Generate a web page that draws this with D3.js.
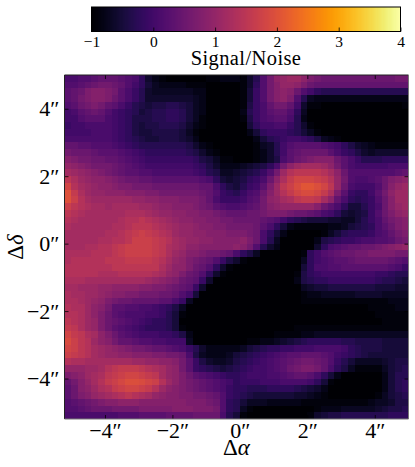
<!DOCTYPE html>
<html>
<head>
<meta charset="utf-8">
<script src="https://cdn.jsdelivr.net/npm/d3@7"></script>
<style>
html, body { margin: 0; padding: 0; background: #fff; }
svg { display: block; }
text { font-family: "Liberation Serif", serif; fill: #000; }
</style>
</head>
<body>
<svg id="chart" width="415" height="467"></svg>
<script>
// signal/noise map, rows top to bottom, columns left to right
var snMap = [
[.1,.1,.2,.2,.3, .4,.4,.4,.3,.2, .1,-.2,-.6,-.8,-.9, -1,-1,-1,-1,-1, -1,-.9,-.9,-.8,-.8, -.8,-.9,-.6,-.3,.2, .6,.9,1,1.1,1.1, .9,.7,.6,.5,.5, .5,.5,.5,.5,.5, .5,.5,.5,.5,.6, .6],
[.2,.2,.3,.4,.5, .6,.6,.5,.4,.2, 0,-.2,-.5,-.7,-.8, -.8,-.8,-.8,-.9,-.9, -.9,-1,-1,-1,-1, -1,-.9,-.6,-.2,.2, .6,.8,1,1,.9, .7,.5,.4,.4,.4, .4,.4,.4,.4,.4, .4,.4,.4,.4,.4, .4],
[.3,.4,.5,.7,.8, .8,.7,.6,.3,.1, -.1,-.3,-.6,-.7,-.7, -.7,-.7,-.7,-.7,-.8, -.8,-1,-1,-1,-1, -1,-.9,-.5,-.1,.2, .6,.8,.9,.8,.5, .2,0,-.2,-.3,-.3, -.3,-.3,-.3,-.3,-.3, -.3,-.3,-.3,-.3,-.3, -.3],
[.3,.4,.6,.7,.8, .8,.7,.5,.3,.1, -.1,-.3,-.6,-.6,-.6, -.6,-.6,-.6,-.6,-.7, -.8,-1,-1,-1,-1, -1,-.9,-.5,-.1,.2, .6,.8,.9,.7,.2, -.3,-.7,-.8,-.8,-.8, -.8,-.8,-.8,-.8,-.8, -.8,-.8,-.8,-.8,-.8, -.8],
[.2,.3,.5,.6,.7, .6,.4,.3,.1,-.1, -.3,-.4,-.5,-.4,-.4, -.3,-.3,-.4,-.5,-.7, -.8,-1,-1,-1,-1, -1,-.9,-.4,-.1,.1, .4,.6,.6,.4,0, -.6,-.9,-.9,-1,-1, -1,-1,-1,-1,-1, -1,-1,-1,-1,-1, -.9],
[0,.1,.3,.4,.5, .4,.2,0,-.1,-.2, -.3,-.5,-.4,-.3,-.3, -.2,-.2,-.3,-.5,-.7, -.8,-1,-1,-1,-1, -1,-.8,-.3,-.1,.1, .3,.4,.4,.2,-.2, -.7,-1,-1,-1,-1, -1,-1,-1,-1,-1, -1,-1,-1,-1,-1, -1],
[0,0,.2,.3,.3, .3,.1,0,-.1,-.2, -.4,-.4,-.4,-.3,-.3, -.2,-.2,-.3,-.5,-.7, -.9,-1,-1,-1,-1, -1,-.9,-.4,-.1,.1, .2,.3,.3,.1,-.3, -.8,-1,-1,-1,-1, -1,-1,-1,-1,-1, -1,-1,-1,-1,-1, -1],
[-.1,0,0,.1,.1, .1,.1,0,-.1,-.2, -.4,-.5,-.4,-.4,-.3, -.3,-.3,-.4,-.6,-.8, -.9,-1,-1,-1,-1, -1,-1,-.5,-.2,0, 0,.1,.1,-.1,-.3, -.6,-.9,-1,-1,-1, -1,-1,-1,-1,-1, -1,-1,-1,-1,-1, -1],
[0,0,0,0,.1, .1,.1,0,-.1,-.2, -.4,-.5,-.5,-.4,-.4, -.4,-.4,-.5,-.7,-.9, -1,-1,-1,-1,-1, -1,-1,-.8,-.5,-.2, -.1,-.1,-.1,-.2,-.3, -.5,-.7,-.9,-1,-1, -1,-1,-1,-1,-1, -1,-1,-1,-1,-1, -1],
[.1,.1,.1,.1,.1, .1,.1,0,-.1,-.2, -.3,-.4,-.5,-.5,-.4, -.4,-.4,-.5,-.6,-.8, -1,-1,-1,-1,-1, -1,-1,-1,-.8,-.5, -.3,-.2,-.1,0,0, -.1,-.2,-.4,-.7,-.8, -.9,-1,-1,-1,-1, -1,-1,-1,-1,-1, -1],
[.4,.4,.3,.3,.2, .2,.2,.1,0,-.1, -.2,-.3,-.3,-.3,-.3, -.3,-.3,-.3,-.4,-.6, -.8,-.9,-1,-1,-1, -1,-1,-1,-.9,-.7, -.6,-.3,0,.2,.3, .3,.3,.3,.2,.1, 0,-.2,-.4,-.6,-.7, -.8,-.9,-.9,-.9,-.9, -.9],
[.6,.5,.5,.5,.4, .3,.3,.3,.2,.1, 0,-.1,-.2,-.2,-.2, -.2,-.2,-.2,-.3,-.4, -.6,-.8,-.9,-1,-1, -1,-1,-1,-.9,-.8, -.6,-.3,0,.3,.4, .5,.5,.5,.5,.3, .1,-.1,-.2,-.4,-.6, -.7,-.6,-.6,-.6,-.6, -.6],
[.8,.7,.6,.6,.5, .5,.4,.4,.3,.2, .1,0,-.1,-.1,-.1, -.1,-.1,-.1,-.1,-.2, -.4,-.5,-.7,-.9,-.9, -1,-1,-1,-.9,-.8, -.6,-.4,.1,.3,.5, .6,.7,.8,.8,.8, .5,.3,.1,-.1,-.3, -.3,-.3,-.2,-.2,-.2, -.2],
[1,.9,.8,.7,.6, .6,.6,.5,.4,.3, .2,.1,0,0,0, 0,0,0,0,-.1, -.2,-.4,-.6,-.8,-.8, -.8,-.7,-.6,-.5,-.4, -.2,.1,.6,.9,1.1, 1.2,1.2,1.2,1.1,.9, .6,.3,.1,0,0, 0,0,0,.1,.1, .1],
[1.2,1.1,1,.9,.8, .7,.6,.5,.4,.3, .3,.2,.2,.1,.1, .1,.1,.1,.1,0, -.1,-.3,-.4,-.7,-.7, -.6,-.5,-.4,-.3,-.1, .2,.6,1.1,1.4,1.5, 1.5,1.5,1.5,1.4,1.2, .9,.5,.2,.2,.2, .2,.2,.2,.2,.3, .4],
[1.5,1.3,1.1,1,.9, .9,.8,.7,.6,.5, .5,.4,.4,.3,.3, .3,.3,.3,.3,.3, .2,.1,-.2,-.5,-.6, -.5,-.4,-.2,-.1,.1, .5,.9,1.3,1.6,1.8, 1.8,1.8,1.7,1.6,1.4, 1,.6,.2,.1,.1, .2,.3,.5,.7,.8, .9],
[1.8,1.4,1.2,1.1,1, .9,.9,.8,.7,.7, .6,.6,.6,.5,.5, .5,.5,.5,.5,.5, .4,.4,.1,-.2,-.4, -.5,-.3,-.1,0,.3, .7,1.1,1.5,1.7,1.9, 2.05,2.05,1.95,1.8,1.5, 1,.5,.1,0,0, 0,.2,.5,.8,1, 1.1],
[2,1.6,1.3,1.1,1, 1,.9,.9,.9,.8, .8,.8,.7,.7,.6, .6,.6,.6,.6,.6, .5,.4,.2,-.1,-.2, -.3,-.1,.1,.2,.5, .8,1.1,1.4,1.6,1.8, 1.9,1.9,1.8,1.6,1.3, .7,.3,-.1,-.2,-.2, 0,.3,.6,.9,1.1, 1.1],
[2,1.7,1.4,1.2,1.1, 1.1,1.1,1.1,1.1,1.1, 1,1,.9,.9,.8, .8,.8,.7,.7,.7, .6,.4,.1,-.1,-.1, -.1,0,.2,.3,.6, .9,1,1.2,1.3,1.5, 1.6,1.6,1.5,1.2,.9, .4,.1,-.2,-.3,-.2, -.1,.2,.5,.8,1.1, 1.1],
[1.7,1.5,1.4,1.3,1.2, 1.2,1.1,1.2,1.2,1.2, 1.2,1.1,1.1,1,.9, .9,.8,.8,.8,.7, .6,.5,.3,.2,.1, .1,.2,.3,.4,.6, .8,.9,1,1,1, 1,1,.8,.5,.3, .1,-.2,-.5,-.5,-.3, -.1,.1,.5,.8,1, 1.1],
[1.5,1.4,1.3,1.2,1.2, 1.2,1.2,1.2,1.2,1.3, 1.3,1.3,1.2,1.1,1, 1,.9,.9,.8,.8, .7,.7,.6,.5,.4, .4,.4,.5,.5,.6, .7,.7,.7,.6,.5, .5,.4,.3,.1,0, -.2,-.5,-.6,-.5,-.4, -.1,.2,.5,.7,.9, 1],
[1.4,1.3,1.2,1.2,1.2, 1.2,1.2,1.2,1.3,1.4, 1.4,1.5,1.4,1.3,1.2, 1.1,1,.9,.9,.8, .8,.7,.7,.6,.6, .5,.5,.5,.5,.4, .3,.2,0,-.2,-.3, -.4,-.5,-.5,-.5,-.6, -.6,-.7,-.7,-.5,-.3, -.1,.1,.4,.6,.7, .8],
[1.3,1.2,1.2,1.2,1.2, 1.2,1.2,1.3,1.3,1.4, 1.5,1.5,1.5,1.4,1.3, 1.2,1.1,1,1,.9, .8,.8,.7,.7,.6, .6,.6,.6,.5,.3, .1,-.2,-.5,-.8,-.9, -.9,-.9,-.9,-.9,-.8, -.8,-.7,-.5,-.4,-.3, -.2,.1,.3,.5,.7, .8],
[1.2,1.2,1.2,1.2,1.2, 1.2,1.3,1.3,1.4,1.5, 1.6,1.7,1.6,1.5,1.4, 1.3,1.1,1,1,.9, .9,.8,.8,.8,.7, .7,.7,.6,.5,.1, -.2,-.5,-.8,-1,-1, -1,-1,-1,-.9,-.7, -.5,-.3,-.2,-.2,-.2, -.1,.1,.2,.4,.6, .7],
[1.2,1.2,1.2,1.2,1.2, 1.3,1.3,1.4,1.4,1.5, 1.7,1.7,1.7,1.6,1.5, 1.4,1.2,1.1,1,1, .9,.9,.8,.8,.8, .8,.9,.7,.5,.1, -.3,-.7,-1,-1,-1, -1,-1,-.8,-.4,-.3, -.2,-.1,-.1,0,.1, .1,.2,.2,.3,.5, .6],
[1.2,1.2,1.2,1.3,1.3, 1.4,1.4,1.5,1.6,1.7, 1.7,1.7,1.7,1.6,1.5, 1.3,1.2,1.1,.9,.9, .8,.8,.8,.8,.8, .9,.8,.6,.2,-.3, -.6,-.8,-1,-1,-1, -1,-1,-.6,-.2,.1, .2,.3,.4,.4,.5, .5,.6,.7,.8,.9, 1],
[1.3,1.3,1.3,1.3,1.4, 1.4,1.4,1.5,1.6,1.7, 1.7,1.7,1.7,1.6,1.5, 1.3,1.1,1,.8,.8, .7,.6,.6,.5,.4, .1,-.2,-.4,-.7,-1, -1,-1,-1,-1,-1, -.9,-.2,0,.2,.3, .4,.5,.5,.6,.6, .7,.7,.7,.7,.6, .6],
[1.3,1.4,1.4,1.4,1.4, 1.4,1.5,1.5,1.5,1.6, 1.6,1.6,1.6,1.5,1.4, 1.2,1,.9,.7,.6, .5,.4,.2,-.1,-.4, -.6,-.9,-1,-1,-1, -1,-1,-1,-1,-1, -.7,-.2,0,.1,.2, .3,.3,.4,.5,.5, .5,.5,.5,.4,.3, .2],
[1.4,1.4,1.4,1.4,1.4, 1.4,1.4,1.5,1.5,1.5, 1.5,1.5,1.5,1.5,1.3, 1.1,.9,.9,.7,.5, .4,.2,-.2,-.6,-.9, -1,-1,-1,-1,-1, -1,-1,-1,-1,-1, -.5,-.2,.1,.1,.2, .2,.3,.3,.3,.3, .3,.3,.3,.2,.1, -.1],
[1.4,1.4,1.4,1.4,1.4, 1.3,1.3,1.3,1.4,1.4, 1.4,1.4,1.4,1.3,1.2, 1,.9,.7,.5,.4, .2,-.2,-.6,-.9,-1, -1,-1,-1,-1,-1, -1,-1,-1,-1,-.9, -.4,-.2,-.1,0,0, 0,0,0,0,0, 0,-.1,-.1,-.2,-.3, -.3],
[1.3,1.3,1.3,1.2,1.2, 1.2,1.2,1.2,1.2,1.2, 1.2,1.2,1.1,1,.9, .8,.7,.5,.4,.3, -.1,-.6,-1,-1,-1, -1,-1,-1,-1,-1, -1,-1,-1,-1,-.8, -.4,-.3,-.2,-.2,-.1, -.1,-.1,-.1,-.1,-.1, -.1,-.2,-.3,-.3,-.4, -.5],
[1.2,1.2,1.1,1.1,1.1, 1,1,.9,.9,.9, .9,.8,.8,.7,.7, .6,.5,.4,.3,-.1, -.6,-1,-1,-1,-1, -1,-1,-1,-1,-1, -1,-1,-1,-1,-1, -.7,-.6,-.5,-.5,-.4, -.4,-.4,-.4,-.4,-.4, -.4,-.5,-.5,-.5,-.6, -.6],
[1.3,1.2,1.2,1.1,1.1, 1,.9,.8,.8,.7, .7,.6,.6,.6,.5, .5,.4,.2,0,-.5, -1,-1,-1,-1,-1, -1,-1,-1,-1,-1, -1,-1,-1,-1,-1, -.9,-.8,-.8,-.7,-.7, -.7,-.7,-.7,-.6,-.6, -.6,-.6,-.7,-.7,-.7, -.7],
[1.3,1.3,1.2,1.1,1, .9,.7,.6,.5,.5, .4,.4,.4,.4,.3, .3,.1,-.1,-.7,-1, -1,-1,-1,-1,-1, -1,-1,-1,-1,-1, -1,-1,-1,-1,-1, -.9,-.9,-.9,-.9,-.9, -.9,-.9,-.9,-.9,-.9, -.9,-.9,-.9,-.8,-.8, -.8],
[1.4,1.3,1.3,1.1,.9, .8,.6,.3,.3,.2, .2,.1,.1,0,-.1, -.2,-.4,-.7,-1,-1, -1,-1,-1,-1,-1, -1,-1,-1,-1,-1, -1,-1,-1,-1,-1, -1,-1,-1,-1,-1, -1,-1,-1,-1,-1, -.9,-.9,-.9,-.9,-.8, -.8],
[1.4,1.4,1.3,1.1,.9, .7,.5,.3,.2,.1, .1,.1,0,0,-.1, -.3,-.5,-.9,-1,-1, -1,-1,-1,-1,-1, -1,-1,-1,-1,-1, -1,-1,-1,-1,-1, -1,-1,-1,-1,-1, -1,-1,-1,-1,-1, -1,-.9,-.9,-.9,-.9, -.9],
[1.5,1.4,1.3,1.1,1, .7,.5,.4,.3,.2, .1,0,-.1,-.2,-.2, -.3,-.5,-1,-1,-1, -1,-1,-1,-1,-1, -1,-1,-1,-1,-1, -1,-1,-1,-1,-1, -1,-1,-1,-1,-1, -1,-1,-1,-1,-1, -1,-1,-.9,-.9,-.9, -.9],
[1.6,1.5,1.3,1.1,1, .7,.5,.3,.2,.1, 0,-.1,-.2,-.2,-.2, -.3,-.5,-.9,-1,-1, -1,-1,-1,-1,-1, -1,-1,-1,-1,-1, -1,-1,-1,-1,-.9, -.9,-.9,-.9,-.9,-.9, -.9,-.9,-.9,-.9,-.9, -.9,-.9,-.9,-.9,-.9, -.9],
[1.8,1.6,1.5,1.3,1.2, .9,.7,.5,.3,.2, .1,0,0,0,-.1, -.1,-.2,-.4,-.8,-1, -1,-1,-1,-1,-1, -1,-1,-1,-1,-1, -1,-.9,-.9,-.9,-.9, -.8,-.8,-.7,-.7,-.7, -.7,-.7,-.7,-.7,-.7, -.7,-.7,-.7,-.7,-.7, -.7],
[1.9,1.7,1.5,1.4,1.1, .9,.8,.6,.4,.4, .3,.2,.2,.1,.1, 0,0,0,-.7,-1, -1,-1,-1,-1,-1, -1,-1,-.9,-.9,-.8, -.8,-.7,-.6,-.5,-.4, -.3,-.2,-.2,-.2,-.2, -.2,-.3,-.3,-.4,-.4, -.4,-.4,-.5,-.5,-.5, -.5],
[1.8,1.7,1.5,1.4,1.2, 1.1,1,.9,.8,.7, .6,.6,.5,.4,.4, .3,.2,.1,-.1,-.3, -.6,-.8,-.8,-.8,-.8, -.8,-.7,-.5,-.4,-.3, -.2,-.2,-.1,-.1,0, 0,0,.1,.1,.1, .1,0,-.2,-.3,-.4, -.4,-.4,-.5,-.5,-.5, -.5],
[1.7,1.6,1.5,1.4,1.2, 1.1,1,1,.9,.9, .8,.8,.8,.7,.7, .6,.6,.5,.1,-.4, -.7,-.8,-.8,-.8,-.7, -.5,-.4,-.3,-.2,-.1, 0,.1,.2,.3,.3, .4,.4,.4,.3,.2, 0,-.1,-.2,-.3,-.4, -.5,-.5,-.5,-.5,-.5, -.5],
[1.4,1.3,1.3,1.2,1.2, 1.2,1.2,1.2,1.2,1.2, 1.1,1.1,1,1,.9, .9,.8,.6,.3,-.1, -.4,-.6,-.7,-.7,-.6, -.4,-.3,-.2,-.1,0, .1,.2,.3,.4,.5, .6,.6,.5,.4,.2, -.1,-.3,-.5,-.7,-.7, -.7,-.7,-.6,-.5,-.4, -.4],
[1,1,1,1.1,1.1, 1.2,1.4,1.5,1.6,1.6, 1.6,1.5,1.4,1.3,1.2, 1,.9,.6,.3,-.1, -.2,-.3,-.4,-.5,-.4, -.3,-.2,-.1,0,0, .1,.2,.3,.5,.6, .7,.7,.6,.4,.1, -.2,-.4,-.7,-.9,-.9, -.9,-.9,-.7,-.5,-.4, -.3],
[.7,.8,.9,1.1,1.2, 1.3,1.5,1.6,1.7,1.8, 1.8,1.7,1.6,1.5,1.2, 1,.9,.7,.5,.3, .2,.1,0,-.1,-.2, -.2,-.1,0,0,0, .1,.1,.2,.3,.4, .4,.3,.1,-.2,-.5, -.8,-1,-1,-1,-1, -1,-1,-.8,-.5,-.3, -.3],
[.4,.6,.8,1,1.2, 1.4,1.6,1.7,1.85,1.95, 1.95,1.9,1.8,1.7,1.4, 1.1,.9,.7,.6,.5, .4,.3,.2,.1,0, -.2,-.1,-.1,-.1,0, 0,0,.1,.1,.1, .1,0,-.2,-.5,-.9, -1,-1,-1,-1,-1, -1,-1,-.8,-.5,-.3, -.2],
[.3,.5,.8,.9,1.1, 1.3,1.4,1.6,1.7,1.8, 1.8,1.7,1.6,1.4,1.1, .9,.8,.7,.6,.5, .4,.3,.2,.1,-.1, -.2,-.2,-.3,-.3,-.3, -.2,-.2,-.2,-.2,-.3, -.4,-.5,-.6,-.8,-1, -1,-1,-1,-1,-1, -1,-1,-.8,-.5,-.3, -.2],
[.3,.5,.7,.8,1, 1.1,1.2,1.3,1.4,1.5, 1.4,1.3,1.2,1,.9, .8,.8,.7,.7,.6, .6,.5,.4,.2,-.1, -.2,-.3,-.4,-.5,-.5, -.5,-.5,-.5,-.5,-.6, -.6,-.7,-.8,-.9,-1, -1,-1,-1,-1,-1, -1,-.9,-.7,-.5,-.4, -.3],
[.2,.3,.4,.5,.6, .7,.8,.8,.9,.9, .9,.8,.8,.8,.8, .8,.8,.8,.7,.7, .7,.6,.5,.2,-.2, -.3,-.5,-.7,-.7,-.7, -.8,-.8,-.8,-.8,-.8, -.9,-.9,-.9,-.9,-.9, -.9,-.9,-.9,-.9,-.9, -.8,-.7,-.7,-.6,-.4, -.4],
[.2,.2,.3,.4,.5, .5,.5,.6,.6,.6, .6,.7,.7,.7,.7, .7,.8,.8,.8,.7, .7,.7,.6,.2,-.2, -.3,-.7,-.9,-1,-1, -1,-1,-1,-1,-1, -1,-1,-.9,-.8,-.8, -.8,-.7,-.7,-.7,-.7, -.7,-.6,-.5,-.4,-.4, -.3],
[.1,.1,.1,.1,.1, .1,.1,.1,.2,.2, .2,.3,.3,.3,.3, .4,.4,.4,.4,.5, .5,.5,.5,.1,-.3, -.5,-.9,-1,-1,-1, -1,-1,-1,-1,-1, -1,-.9,-.6,-.5,-.4, -.4,-.3,-.3,-.3,-.3, -.3,-.3,-.3,-.2,-.2, -.2]
];

var offsetTicks = [-4, -2, 0, 2, 4];
var cbarTicks = [-1, 0, 1, 2, 3, 4];
var cbarSteps = d3.range(256);

var svg = d3.select("#chart");

var color = d3.scaleSequential(d3.interpolateInferno).domain([-1, 4]).clamp(true);

var x = d3.scaleLinear().domain([-5.2, 5]).range([64.5, 408.5]);
var y = d3.scaleLinear().domain([-5.2, 5]).range([419, 75]);
var cellX = d3.scaleBand().domain(d3.range(snMap[0].length)).range(x.range());
var cellY = d3.scaleBand().domain(d3.range(snMap.length)).range([75, 419]);

function minusSign(v) {
    return v < 0 ? "\u2212" + Math.abs(v) : "" + v;
}
function arcsec(v) {
    return minusSign(v) + "\u2033";
}

// heat map
var rows = svg.append("g").attr("class", "cells")
    .selectAll("g")
    .data(snMap)
    .enter().append("g")
    .attr("transform", function(d, j) { return "translate(0," + cellY(j) + ")"; });

rows.selectAll("rect")
    .data(function(d) { return d; })
    .enter().append("rect")
    .attr("x", function(d, i) { return cellX(i); })
    .attr("width", cellX.bandwidth())
    .attr("height", cellY.bandwidth())
    .attr("shape-rendering", "crispEdges")
    .attr("fill", function(d) { return color(d); });

// frame and ticks on all four sides
function styleAxis(g, fontSize) {
    g.select(".domain").remove();
    g.selectAll("line").attr("stroke", "#000").attr("stroke-width", 0.8);
    g.selectAll("text").style("font-size", fontSize + "px");
}

svg.append("g")
    .attr("transform", "translate(0,419)")
    .call(d3.axisBottom(x).tickValues(offsetTicks).tickSize(-4).tickPadding(3).tickFormat(arcsec))
    .call(styleAxis, 22);
svg.append("g")
    .attr("transform", "translate(0,75)")
    .call(d3.axisTop(x).tickValues(offsetTicks).tickSize(-4).tickFormat(""))
    .call(styleAxis, 22);
svg.append("g")
    .attr("transform", "translate(64.5,0)")
    .call(d3.axisLeft(y).tickValues(offsetTicks).tickSize(-4).tickPadding(5).tickFormat(arcsec))
    .call(styleAxis, 22);
svg.append("g")
    .attr("transform", "translate(408.5,0)")
    .call(d3.axisRight(y).tickValues(offsetTicks).tickSize(-4).tickFormat(""))
    .call(styleAxis, 22);

// top and left edges come out dark, bottom and right grey
svg.append("path")
    .attr("d", d3.line()([[64.5, 419], [64.5, 75], [408.5, 75]]))
    .attr("fill", "none")
    .attr("stroke", "#222");
svg.append("path")
    .attr("d", d3.line()([[64.5, 419], [408.5, 419], [408.5, 75]]))
    .attr("fill", "none")
    .attr("stroke", "#777");

// axis labels
var xLabel = svg.append("text")
    .attr("x", 236.5).attr("y", 455)
    .attr("text-anchor", "middle")
    .style("font-size", "23px");
xLabel.append("tspan").text("\u0394");
xLabel.append("tspan").style("font-style", "italic").text("\u03b1");

var yLabel = svg.append("text")
    .attr("transform", "translate(23,247) rotate(-90)")
    .attr("text-anchor", "middle")
    .style("font-size", "23px");
yLabel.append("tspan").text("\u0394");
yLabel.append("tspan").style("font-style", "italic").text("\u03b4");

// colour bar
var cbar = d3.scaleLinear().domain([-1, 4]).range([91.5, 400.5]);
var cbarStep = d3.scaleBand().domain(cbarSteps).range(cbar.range());

svg.append("g").selectAll("rect")
    .data(cbarSteps)
    .enter().append("rect")
    .attr("x", function(d) { return cbarStep(d); })
    .attr("y", 7)
    .attr("width", cbarStep.bandwidth())
    .attr("height", 24.5)
    .attr("shape-rendering", "crispEdges")
    .attr("fill", function(d) { return color(-1 + d / 255 * 5); });

svg.append("g")
    .attr("transform", "translate(0,31.5)")
    .call(d3.axisBottom(cbar).tickValues(cbarTicks).tickSize(-4).tickPadding(4.5).tickFormat(minusSign))
    .call(styleAxis, 15.5);

svg.append("rect")
    .attr("x", 91.5).attr("y", 7)
    .attr("width", 309).attr("height", 24.5)
    .attr("fill", "none")
    .attr("stroke", "#000")
    .attr("stroke-width", 1);

svg.append("text")
    .attr("x", 246).attr("y", 64.5)
    .attr("text-anchor", "middle")
    .style("font-size", "20.5px")
    .style("letter-spacing", "0.4px")
    .text("Signal/Noise");
</script>
</body>
</html>
